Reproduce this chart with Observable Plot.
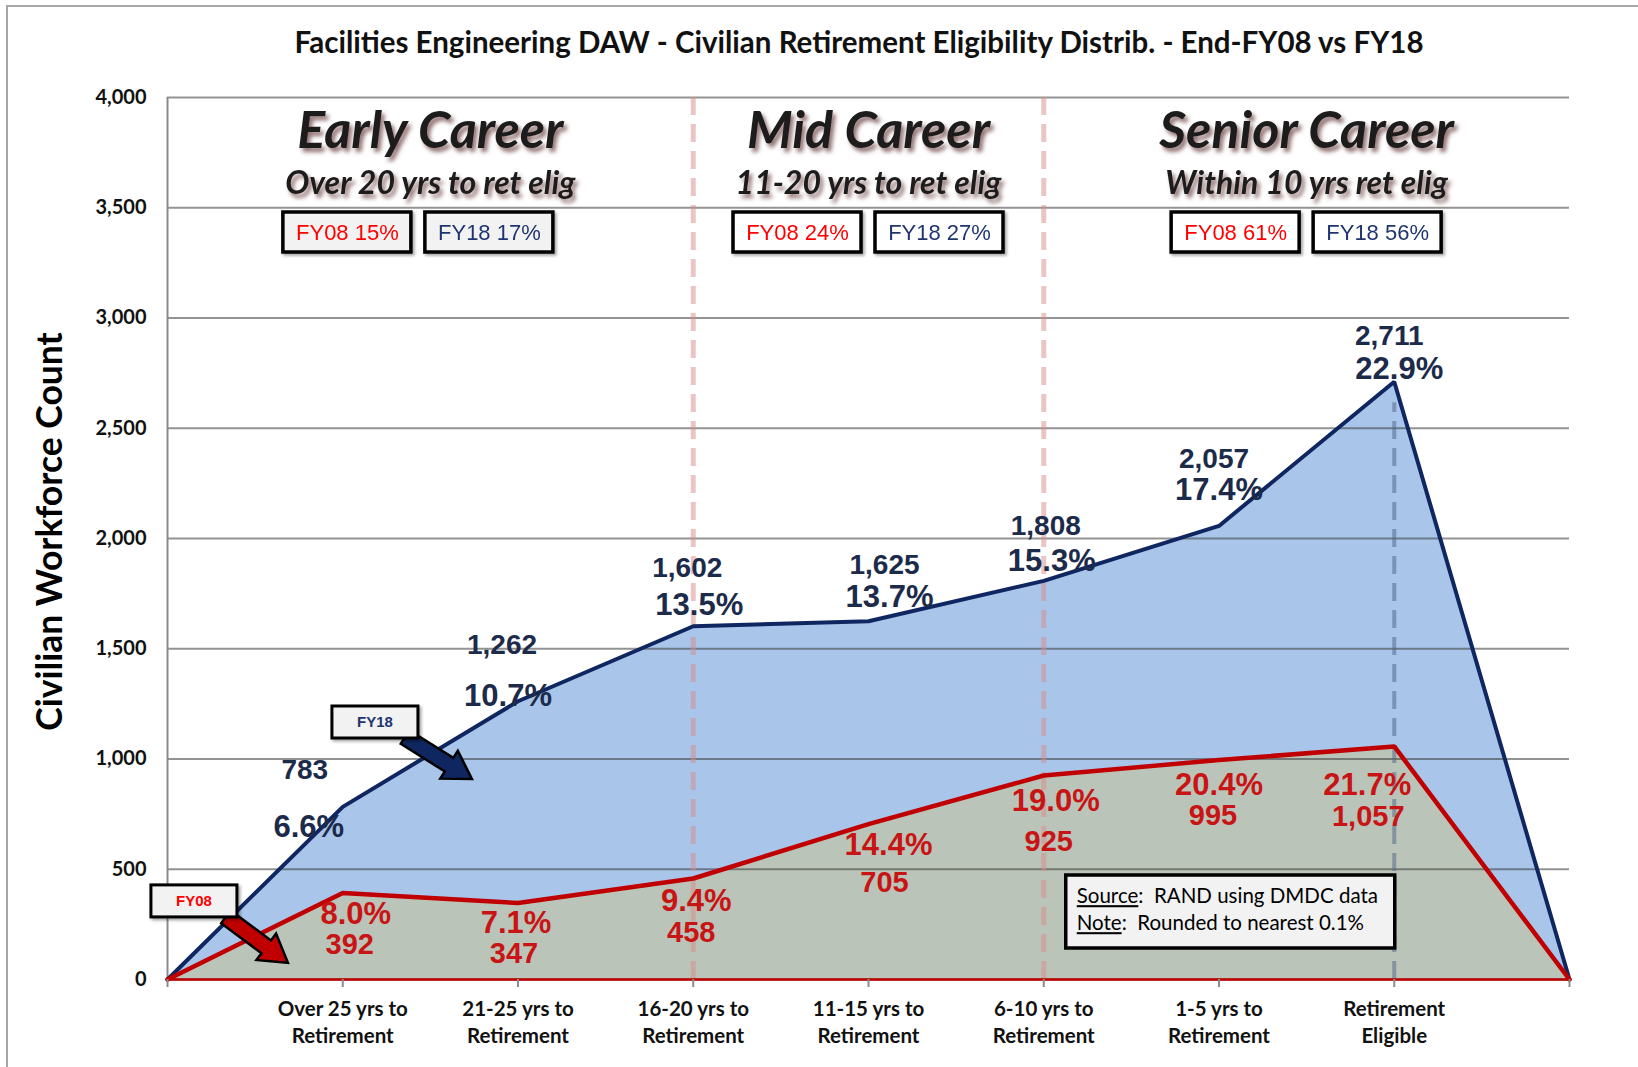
<!DOCTYPE html>
<html>
<head>
<meta charset="utf-8">
<script src="https://cdn.jsdelivr.net/npm/d3@7"></script>
<script src="https://cdn.jsdelivr.net/npm/@observablehq/plot@0.6"></script>
<style>
  html, body { margin: 0; padding: 0; background: #fff; }
  #wrap { position: relative; width: 1638px; height: 1067px; overflow: hidden; background: #fff; }
  #frameLine { position: absolute; left: 6px; top: 5px; width: 1640px; height: 1070px;
    border-left: 2px solid #a6a6a6; border-top: 2px solid #a6a6a6; pointer-events: none; }
  #title { height: 56px; padding-top: 14px; line-height: 56px; text-align: center;
    font-family: Lato, "Open Sans", sans-serif; font-weight: bold; font-size: 29.5px; color: #111;
    padding-left: 80px; box-sizing: content-box; }
  #chart svg { display: block; }
</style>
</head>
<body>
<div id="wrap">
  <div id="title">Facilities Engineering DAW - Civilian Retirement Eligibility Distrib. - End-FY08 vs FY18</div>
  <div id="chart"></div>
  <div id="frameLine"></div>
</div>
<script>
// ---------- data ----------
const categories = ["", "Over 25 yrs to\nRetirement", "21-25 yrs to\nRetirement", "16-20 yrs to\nRetirement",
  "11-15 yrs to\nRetirement", "6-10 yrs to\nRetirement", "1-5 yrs to\nRetirement", "Retirement\nEligible", ""];
const fy18 = [0, 783, 1262, 1602, 1625, 1808, 2057, 2711, 0];
const fy08 = [0, 392, 347, 458, 705, 925, 995, 1057, 0];
const fy18Pct = ["", "6.6%", "10.7%", "13.5%", "13.7%", "15.3%", "17.4%", "22.9%", ""];
const fy08Pct = ["", "8.0%", "7.1%", "9.4%", "14.4%", "19.0%", "20.4%", "21.7%", ""];
const yTicks = [0, 500, 1000, 1500, 2000, 2500, 3000, 3500, 4000];

const regionNames = ["Early Career", "Mid Career", "Senior Career"];
const regionSubs = ["Over 20 yrs to ret elig", "11-20 yrs to ret elig", "Within 10 yrs ret elig"];
const regionStart = [0, 3, 5];
const regionEnd = [3, 5, 8];
const regionFY08 = ["FY08 15%", "FY08 24%", "FY08 61%"];
const regionFY18 = ["FY18 17%", "FY18 27%", "FY18 56%"];
const dividerAt = [3, 5];
const eligibleAt = 7;

// callout anchors (arrow tips) in data units
const calloutLabels = ["FY18", "FY08"];
const calloutX = [1.74, 0.69];
const calloutY = [907, 73];

// ---------- layout (pixel nudges of manually placed labels) ----------
const fy18CountNudge = [[-38,-37],[-16,-56],[-6,-58],[16,-56],[2,-55],[-5,-67],[-5,-46]];
const fy18PctNudge   = [[-34,20],[-10,-5],[6,-21],[21,-24],[8,-20],[0,-36],[5,-13]];
const fy08PctNudge   = [[13,21],[-2,20],[3,23],[20,21],[12,26],[0,25],[-27,39]];
const fy08CountNudge = [[7,52],[-4,51],[-2,54],[16,59],[5,66],[-6,56],[-26,70]];
const boxNudge = [-12, 0, 0];

const NAVY = "#0f2660", RED = "#c00000", BLUE_FILL = "#a9c5ea", GREEN_FILL = "#bbc4b9";
const NAVY_TXT = "#1c2b4a", RED_TXT = "#c81414";
const NUMFONT = "'Liberation Sans', Arial, sans-serif";
const CAL = "Lato, 'Open Sans', sans-serif";

const idx = d3.range(categories.length);
const fmt = d3.format(",");

const labelMarks = d3.range(1, 8).flatMap(i => [
  Plot.text([i], {x: d => d, y: d => fy18[d], text: d => fmt(fy18[d]),
    dx: fy18CountNudge[i-1][0], dy: fy18CountNudge[i-1][1],
    fill: NAVY_TXT, fontFamily: NUMFONT, fontWeight: "bold", fontSize: 28}),
  Plot.text([i], {x: d => d, y: d => fy18[d], text: d => fy18Pct[d],
    dx: fy18PctNudge[i-1][0], dy: fy18PctNudge[i-1][1],
    fill: NAVY_TXT, fontFamily: NUMFONT, fontWeight: "bold", fontSize: 31}),
  Plot.text([i], {x: d => d, y: d => fy08[d], text: d => fy08Pct[d],
    dx: fy08PctNudge[i-1][0], dy: fy08PctNudge[i-1][1],
    fill: RED_TXT, fontFamily: NUMFONT, fontWeight: "bold", fontSize: 31}),
  Plot.text([i], {x: d => d, y: d => fy08[d], text: d => fmt(fy08[d]),
    dx: fy08CountNudge[i-1][0], dy: fy08CountNudge[i-1][1],
    fill: RED_TXT, fontFamily: NUMFONT, fontWeight: "bold", fontSize: 29})
]);

const regionMid = (d, i) => (regionStart[i] + regionEnd[i]) / 2;

const boxTextMarks = regionNames.flatMap((r, i) => [
  Plot.text([regionFY08[i]], {x: () => (regionStart[i] + regionEnd[i]) / 2, frameAnchor: "top", lineAnchor: "middle",
    dy: 135, dx: -71 + boxNudge[i], text: d => d,
    fontFamily: NUMFONT, fontSize: 22, fill: "#ff0000", ariaDescription: "boxlabel"}),
  Plot.text([regionFY18[i]], {x: () => (regionStart[i] + regionEnd[i]) / 2, frameAnchor: "top", lineAnchor: "middle",
    dy: 135, dx: 71 + boxNudge[i], text: d => d,
    fontFamily: NUMFONT, fontSize: 22, fill: "#1f3570", ariaDescription: "boxlabel"})
]);

const plot = Plot.plot({
  width: 1638,
  height: 997,
  marginLeft: 167,
  marginRight: 69,
  marginTop: 27,
  marginBottom: 88,
  x: {type: "linear", domain: [0, 8], axis: null},
  y: {domain: [0, 4000], axis: null},
  style: {background: "transparent", overflow: "visible"},
  marks: [
    Plot.areaY(idx, {x: d => d, y: d => fy18[d], fill: BLUE_FILL, fillOpacity: 1}),
    Plot.areaY(idx, {x: d => d, y: d => fy08[d], fill: GREEN_FILL, fillOpacity: 1}),
    Plot.gridY(yTicks, {stroke: "#3a3a3a", strokeOpacity: 0.55, strokeWidth: 2}),
    Plot.ruleX([0], {stroke: "#8c8c8c", strokeWidth: 2}),
    Plot.ruleX(dividerAt, {y1: 0, y2: 4025, stroke: "#d88c8c", strokeOpacity: 0.5, strokeWidth: 5, strokeDasharray: "18,9"}),
    Plot.ruleX([eligibleAt], {y1: 0, y2: d => fy18[d] - 95, stroke: "#4d6288", strokeOpacity: 0.5, strokeWidth: 4, strokeDasharray: "18,9"}),
    Plot.ruleY([0], {stroke: "#8c8c8c", strokeWidth: 2}),
    Plot.lineY(idx, {x: d => d, y: d => fy18[d], stroke: NAVY, strokeWidth: 4, strokeLinejoin: "miter"}),
    Plot.lineY(idx, {x: d => d, y: d => fy08[d], stroke: RED, strokeWidth: 4.5, strokeLinejoin: "miter"}),
    Plot.ruleY([0], {stroke: RED, strokeWidth: 2.5}),
    Plot.axisX({ticks: idx, tickSize: 8, tickPadding: 9, stroke: "#8c8c8c", strokeWidth: 2,
      tickFormat: d => categories[d], fontSize: 20.5, fontWeight: "bold", fontFamily: CAL,
      fill: "#111", lineHeight: 1.32, label: null}),
    Plot.axisY({ticks: yTicks, tickSize: 0, tickPadding: 21, tickFormat: d3.format(","),
      fontSize: 20, fontWeight: "bold", fontFamily: CAL, fill: "#111", label: null}),
    Plot.text(["Civilian Workforce Count"], {frameAnchor: "left", textAnchor: "middle", lineAnchor: "middle",
      rotate: -90, dx: -117, dy: -7,
      fontSize: 35.5, fontWeight: "bold", fontFamily: CAL, fill: "#000"}),
    ...labelMarks,
    Plot.text(regionNames, {x: regionMid, frameAnchor: "top", lineAnchor: "middle", dy: 34, text: d => d,
      fontFamily: CAL, fontStyle: "italic", fontWeight: "bold", fontSize: 52, fill: "#1b1b1b", ariaDescription: "heading"}),
    Plot.text(regionSubs, {x: regionMid, frameAnchor: "top", lineAnchor: "middle", dy: 86, text: d => d,
      fontFamily: CAL, fontStyle: "italic", fontWeight: "bold", fontSize: 32, fill: "#1b1b1b", ariaDescription: "heading"}),
    ...boxTextMarks
  ]
});

document.getElementById("chart").appendChild(plot);

// ---------- annotation decorations using the plot's scales ----------
const sx = plot.scale("x"), sy = plot.scale("y");
const X = v => sx.apply(v), Y = v => sy.apply(v);
const svg = d3.select(plot);
const defs = svg.insert("defs", ":first-child");
defs.append("filter").attr("id", "headShadow").attr("x", "-10%").attr("y", "-30%").attr("width", "130%").attr("height", "170%")
  .append("feDropShadow").attr("dx", 3).attr("dy", 4).attr("stdDeviation", 2.2)
  .attr("flood-color", "#6b4040").attr("flood-opacity", 0.75);
defs.append("filter").attr("id", "boxShadow").attr("x", "-20%").attr("y", "-30%").attr("width", "150%").attr("height", "170%")
  .append("feDropShadow").attr("dx", 2).attr("dy", 2).attr("stdDeviation", 1.5)
  .attr("flood-color", "#000").attr("flood-opacity", 0.35);

svg.selectAll('g[aria-description="heading"]').attr("filter", "url(#headShadow)");

// boxes behind region percentages
const boxLayer = svg.append("g");
const topY = Y(4000);
regionNames.forEach((r, i) => {
  const cx = X((regionStart[i] + regionEnd[i]) / 2) + boxNudge[i];
  [-71, 71].forEach(off => {
    boxLayer.append("rect")
      .attr("x", cx + off - 64).attr("y", topY + 115).attr("width", 128).attr("height", 40)
      .attr("fill", i === 0 ? "#f2f2f2" : "#ffffff").attr("stroke", "#000").attr("stroke-width", 3.5)
      .attr("filter", "url(#boxShadow)");
  });
});
// move the box label texts above the boxes
svg.selectAll('g[aria-description="boxlabel"]').each(function() { this.parentNode.appendChild(this); });

// callouts with block arrows
const callLayer = svg.append("g");
const boxOff = [[-97, -57], [-94, -62]];
const baseOff = [[-67, -42], [-62, -46]];
const callFill = [NAVY, RED];
const callText = ["#1f3570", "#ff0000"];
calloutLabels.forEach((lab, k) => {
  const tx = X(calloutX[k]), ty = Y(calloutY[k]);
  const bx = tx + baseOff[k][0], by = ty + baseOff[k][1];
  const dx = tx - bx, dy = ty - by, len = Math.hypot(dx, dy);
  const ux = dx / len, uy = dy / len, nx = -uy, ny = ux;
  const hw = 8, hh = 16.5, hl = 27;
  const hx = tx - ux * hl, hy = ty - uy * hl;
  const pts = [
    [bx + nx * hw, by + ny * hw], [hx + nx * hw, hy + ny * hw], [hx + nx * hh, hy + ny * hh],
    [tx, ty], [hx - nx * hh, hy - ny * hh], [hx - nx * hw, hy - ny * hw], [bx - nx * hw, by - ny * hw]
  ];
  callLayer.append("polygon").attr("points", pts.map(p => p.join(",")).join(" "))
    .attr("fill", callFill[k]).attr("stroke", "#000").attr("stroke-width", 2.5).attr("stroke-linejoin", "miter");
  const cx = tx + boxOff[k][0], cy = ty + boxOff[k][1];
  callLayer.append("rect").attr("x", cx - 43).attr("y", cy - 16).attr("width", 86).attr("height", 32)
    .attr("fill", "#f2f2f2").attr("stroke", "#000").attr("stroke-width", 3).attr("filter", "url(#boxShadow)");
  callLayer.append("text").attr("x", cx).attr("y", cy).attr("dy", "0.35em").attr("text-anchor", "middle")
    .attr("font-family", NUMFONT).attr("font-weight", "bold").attr("font-size", 15)
    .attr("fill", callText[k]).text(lab);
});

// Source / Note box, right-aligned to the "Retirement Eligible" tick
const noteLayer = svg.append("g");
const nRight = X(eligibleAt) + 1, nBottom = Y(0) - 31;
noteLayer.append("rect").attr("x", nRight - 329).attr("y", nBottom - 73).attr("width", 329).attr("height", 73)
  .attr("fill", "#f2f2f2").attr("stroke", "#000").attr("stroke-width", 3.5);
const noteLines = [["Source", ":  RAND using DMDC data"], ["Note", ":  Rounded to nearest 0.1%"]];
noteLines.forEach((ln, j) => {
  const t = noteLayer.append("text").attr("x", nRight - 318).attr("y", nBottom - 52 + j * 27).attr("dy", "0.35em")
    .attr("text-anchor", "start")
    .attr("font-family", CAL).attr("font-size", 20.5).attr("fill", "#000").attr("xml:space", "preserve");
  t.append("tspan").attr("text-decoration", "underline").text(ln[0]);
  t.append("tspan").text(ln[1]);
});
</script>
</body>
</html>
